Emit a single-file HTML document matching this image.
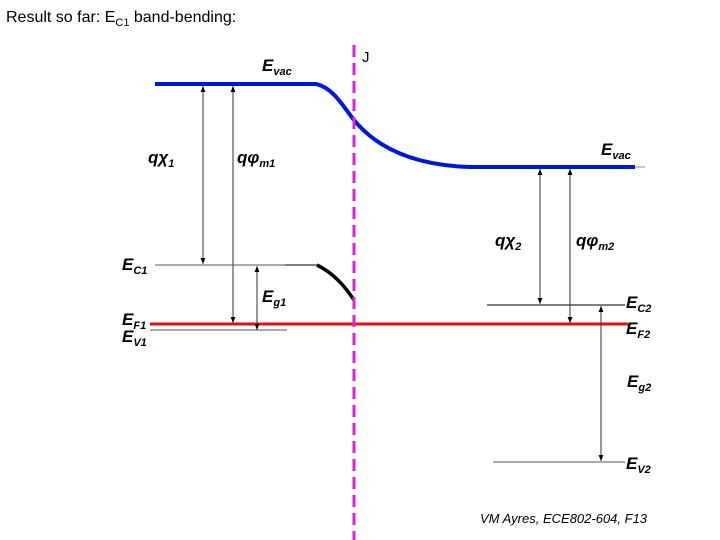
<!DOCTYPE html>
<html><head><meta charset="utf-8"><style>
html,body{margin:0;padding:0;background:#fff;width:720px;height:540px;overflow:hidden}
svg text{font-family:"Liberation Sans",sans-serif}
</style></head><body>
<svg width="720" height="540" viewBox="0 0 720 540" xmlns="http://www.w3.org/2000/svg">
<defs>
<marker id="a" viewBox="0 0 10 10" refX="10" refY="5" markerWidth="6" markerHeight="6" orient="auto-start-reverse"><path d="M0,1 L10,5 L0,9 z" fill="#000"/></marker>
</defs>
<text x="6" y="22" font-size="16" fill="#000">Result so far: E<tspan font-size="11" dy="4">C1</tspan><tspan dy="-4"> band-bending:</tspan></text>
<path d="M155,84 L316,84 C334,88 344,108 354,120 C372,142 405,165 470,167 L635,167" fill="none" stroke="#0018d8" stroke-width="4"/>
<line x1="635" y1="167" x2="645" y2="167" stroke="#888" stroke-width="1"/>
<line x1="155" y1="265" x2="285" y2="265" stroke="#777" stroke-width="1.2"/>
<line x1="285" y1="265" x2="317" y2="265" stroke="#000" stroke-width="1"/>
<path d="M317,265 C333,273 344,285 354,300" fill="none" stroke="#000" stroke-width="3.5"/>
<line x1="150" y1="330" x2="287" y2="330" stroke="#555" stroke-width="1"/>
<line x1="487" y1="305" x2="625" y2="305" stroke="#000" stroke-width="1"/>
<line x1="493" y1="462" x2="625" y2="462" stroke="#555" stroke-width="1"/>
<line x1="150" y1="324" x2="628" y2="324" stroke="#dd1111" stroke-width="3"/>
<line x1="354" y1="45" x2="354" y2="540" stroke="#dd22dd" stroke-width="3" stroke-dasharray="12,6"/>
<g stroke="#333" stroke-width="1" marker-start="url(#a)" marker-end="url(#a)">
<line x1="203" y1="86" x2="203" y2="264"/>
<line x1="233" y1="86" x2="233" y2="323"/>
<line x1="257" y1="266" x2="257" y2="330"/>
<line x1="540" y1="169" x2="540" y2="304"/>
<line x1="570" y1="169" x2="570" y2="323"/>
<line x1="601" y1="306" x2="601" y2="461"/>
</g>
<g font-style="italic" font-weight="bold" font-size="17" fill="#000">
<text x="262" y="71">E<tspan font-size="11" dy="4">vac</tspan></text>
<text x="601" y="155">E<tspan font-size="11" dy="4">vac</tspan></text>
<text x="148" y="163">qχ<tspan font-size="11" dy="4">1</tspan></text>
<text x="237" y="163">qφ<tspan font-size="11" dy="4">m1</tspan></text>
<text x="495" y="246">qχ<tspan font-size="11" dy="4">2</tspan></text>
<text x="576" y="246">qφ<tspan font-size="11" dy="4">m2</tspan></text>
<text x="122" y="270">E<tspan font-size="11" dy="4">C1</tspan></text>
<text x="262" y="302">E<tspan font-size="11" dy="4">g1</tspan></text>
<text x="122" y="325">E<tspan font-size="11" dy="4">F1</tspan></text>
<text x="122" y="342">E<tspan font-size="11" dy="4">V1</tspan></text>
<text x="626" y="308">E<tspan font-size="11" dy="4">C2</tspan></text>
<text x="626" y="334">E<tspan font-size="11" dy="4">F2</tspan></text>
<text x="627" y="387">E<tspan font-size="11" dy="4">g2</tspan></text>
<text x="626" y="469">E<tspan font-size="11" dy="4">V2</tspan></text>
</g>
<text x="362" y="62" font-size="15" fill="#000">J</text>
<text x="480" y="523" font-size="13" font-style="italic" fill="#000">VM Ayres, ECE802-604, F13</text>
</svg>
</body></html>
